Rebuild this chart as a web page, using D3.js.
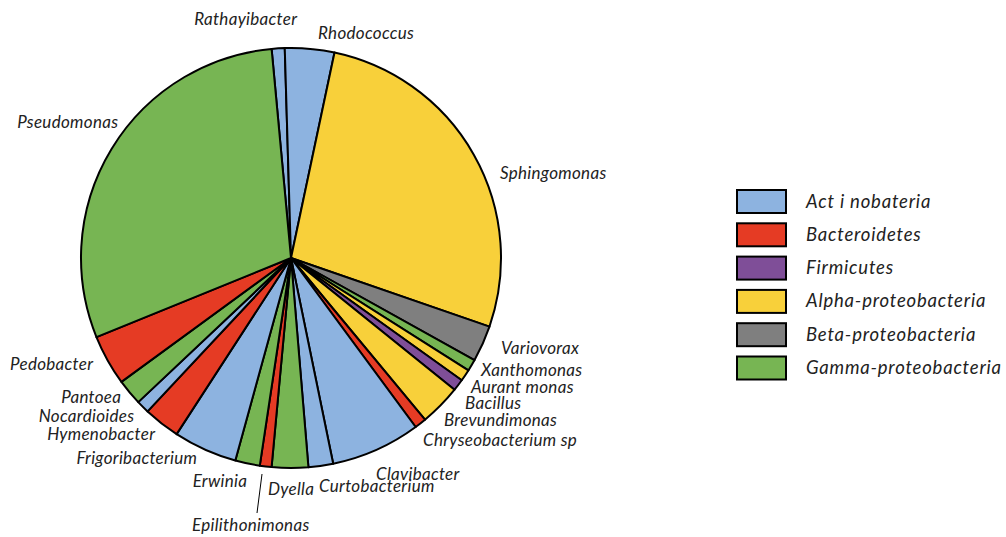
<!DOCTYPE html>
<html>
<head>
<meta charset="utf-8">
<script src="https://cdn.jsdelivr.net/npm/d3@7"></script>
<style>
  html, body { margin: 0; padding: 0; background: #fff; }
  svg text { font-family: "Lato", "Open Sans", sans-serif; font-style: italic; font-weight: 400; fill: #222; }
</style>
</head>
<body>
<svg id="chart" width="1006" height="537"></svg>
<script>
// Genera, in clockwise order, with their share (%) and phylum group
const genera = [
  "Rathayibacter", "Rhodococcus", "Sphingomonas", "Variovorax", "Xanthomonas",
  "Aurant monas", "Bacillus", "Brevundimonas", "Chryseobacterium sp", "Clavibacter",
  "Curtobacterium", "Dyella", "Epilithonimonas", "Erwinia", "Frigoribacterium",
  "Hymenobacter", "Nocardioides", "Pantoea", "Pedobacter", "Pseudomonas"
];
const shares = [
  1.0, 3.8, 27.0, 2.8, 0.9,
  0.9, 0.9, 3.2, 0.9, 6.9,
  1.9, 2.8, 0.9, 1.9, 4.9,
  2.8, 1.0, 2.0, 3.9, 29.7
];
const groupOf = [
  "Act i nobateria", "Act i nobateria", "Alpha-proteobacteria", "Beta-proteobacteria", "Gamma-proteobacteria",
  "Alpha-proteobacteria", "Firmicutes", "Alpha-proteobacteria", "Bacteroidetes", "Act i nobateria",
  "Act i nobateria", "Gamma-proteobacteria", "Bacteroidetes", "Gamma-proteobacteria", "Act i nobateria",
  "Bacteroidetes", "Act i nobateria", "Gamma-proteobacteria", "Bacteroidetes", "Gamma-proteobacteria"
];
const groups = [
  "Act i nobateria", "Bacteroidetes", "Firmicutes",
  "Alpha-proteobacteria", "Beta-proteobacteria", "Gamma-proteobacteria"
];
const groupColors = ["#8db3e0", "#e53b24", "#7f4e98", "#f8d03a", "#7f7f7f", "#77b553"];

// Label placement: [x, baseline y, anchor]
const labelLayout = {
  "Rathayibacter":       [297, 25, "end"],
  "Rhodococcus":         [318, 39, "start"],
  "Sphingomonas":        [500, 179, "start"],
  "Variovorax":          [501, 354, "start"],
  "Xanthomonas":         [481, 376, "start"],
  "Aurant monas":        [471, 393, "start"],
  "Bacillus":            [465, 409, "start"],
  "Brevundimonas":       [444, 426, "start"],
  "Chryseobacterium sp": [423, 446, "start"],
  "Clavibacter":         [376, 480, "start"],
  "Curtobacterium":      [319, 492, "start"],
  "Dyella":              [268, 495, "start"],
  "Epilithonimonas":     [192, 531, "start"],
  "Erwinia":             [247, 487, "end"],
  "Frigoribacterium":    [197, 464, "end"],
  "Hymenobacter":        [155, 440, "end"],
  "Nocardioides":        [134, 422, "end"],
  "Pantoea":             [121, 403, "end"],
  "Pedobacter":          [93, 370, "end"],
  "Pseudomonas":         [118, 128, "end"]
};

const svg = d3.select("#chart");
const cx = 291, cy = 258, radius = 210;
const color = d3.scaleOrdinal().domain(groups).range(groupColors);

const rows = genera.map((g, i) => ({ name: g, value: shares[i], group: groupOf[i] }));
const startDeg = -5.3;
const pie = d3.pie().value(d => d.value).sort(null)
  .startAngle(startDeg * Math.PI / 180)
  .endAngle((startDeg + 360) * Math.PI / 180);
const arc = d3.arc().innerRadius(0).outerRadius(radius);

const g = svg.append("g").attr("transform", `translate(${cx},${cy})`);
g.selectAll("path.slice")
  .data(pie(rows))
  .join("path")
  .attr("class", "slice")
  .attr("d", arc)
  .attr("fill", d => color(d.data.group))
  .attr("stroke", "#000")
  .attr("stroke-width", 2)
  .attr("stroke-linejoin", "round");

// genus labels; end-anchored ones are placed by measured width
const labelFont = 17, labelSpacing = 0.3;
svg.append("g").selectAll("text")
  .data(rows)
  .join("text")
  .attr("font-size", labelFont)
  .attr("letter-spacing", labelSpacing)
  .text(d => d.name)
  .each(function(d) {
    const [x, y, anchor] = labelLayout[d.name];
    const w = this.getComputedTextLength();
    d3.select(this)
      .attr("x", anchor === "end" ? x - w + labelSpacing : x)
      .attr("y", y);
  });

// leader line for Epilithonimonas
svg.append("line")
  .attr("x1", 262).attr("y1", 474)
  .attr("x2", 257).attr("y2", 513)
  .attr("stroke", "#000").attr("stroke-width", 1);

// legend
const legend = svg.append("g").attr("transform", "translate(737,190)");
const item = legend.selectAll("g")
  .data(groups)
  .join("g")
  .attr("transform", (d, i) => `translate(0,${i * 33.3})`);
item.append("rect")
  .attr("width", 49).attr("height", 23)
  .attr("fill", d => color(d))
  .attr("stroke", "#000").attr("stroke-width", 2);
item.append("text")
  .attr("x", 69).attr("y", 17.5)
  .attr("font-size", 18.5)
  .attr("letter-spacing", 0.8)
  .text(d => d);
</script>
</body>
</html>
